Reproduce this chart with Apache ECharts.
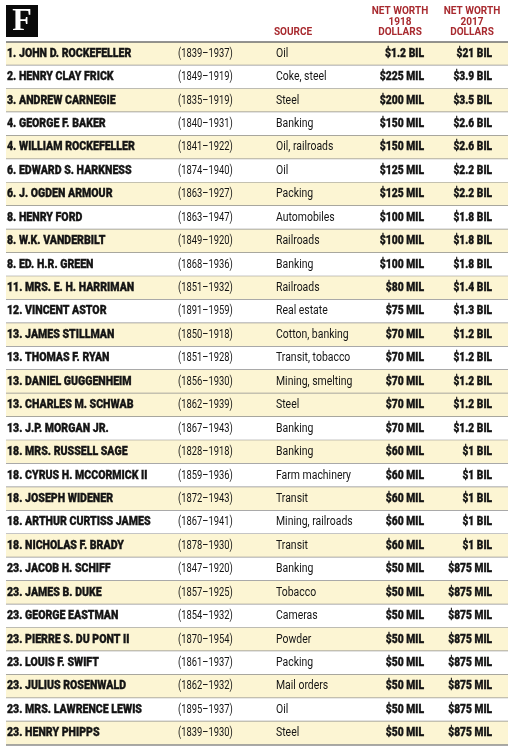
<!DOCTYPE html>
<html>
<head>
<meta charset="utf-8">
<script src="https://cdn.jsdelivr.net/npm/echarts@6/dist/echarts.min.js"></script>
<style>
  html, body { margin: 0; padding: 0; background: #fff; }
  #div_chart { width: 512px; height: 750px; }
</style>
</head>
<body>
<div id="div_chart"></div>
<script>
"use strict";

// table data
const ranks = [1, 2, 3, 4, 4, 6, 6, 8, 8, 8, 11, 12, 13, 13, 13, 13, 13, 18, 18, 18, 18, 18, 23, 23, 23, 23, 23, 23, 23, 23];
const names = [
  "JOHN D. ROCKEFELLER", "HENRY CLAY FRICK", "ANDREW CARNEGIE", "GEORGE F. BAKER",
  "WILLIAM ROCKEFELLER", "EDWARD S. HARKNESS", "J. OGDEN ARMOUR", "HENRY FORD",
  "W.K. VANDERBILT", "ED. H.R. GREEN", "MRS. E. H. HARRIMAN", "VINCENT ASTOR",
  "JAMES STILLMAN", "THOMAS F. RYAN", "DANIEL GUGGENHEIM", "CHARLES M. SCHWAB",
  "J.P. MORGAN JR.", "MRS. RUSSELL SAGE", "CYRUS H. MCCORMICK II", "JOSEPH WIDENER",
  "ARTHUR CURTISS JAMES", "NICHOLAS F. BRADY", "JACOB H. SCHIFF", "JAMES B. DUKE",
  "GEORGE EASTMAN", "PIERRE S. DU PONT II", "LOUIS F. SWIFT", "JULIUS ROSENWALD",
  "MRS. LAWRENCE LEWIS", "HENRY PHIPPS"
];
const lifespans = [
  "(1839–1937)", "(1849–1919)", "(1835–1919)", "(1840–1931)", "(1841–1922)", "(1874–1940)",
  "(1863–1927)", "(1863–1947)", "(1849–1920)", "(1868–1936)", "(1851–1932)", "(1891–1959)",
  "(1850–1918)", "(1851–1928)", "(1856–1930)", "(1862–1939)", "(1867–1943)", "(1828–1918)",
  "(1859–1936)", "(1872–1943)", "(1867–1941)", "(1878–1930)", "(1847–1920)", "(1857–1925)",
  "(1854–1932)", "(1870–1954)", "(1861–1937)", "(1862–1932)", "(1895–1937)", "(1839–1930)"
];
const sources = [
  "Oil", "Coke, steel", "Steel", "Banking", "Oil, railroads", "Oil", "Packing", "Automobiles",
  "Railroads", "Banking", "Railroads", "Real estate", "Cotton, banking", "Transit, tobacco",
  "Mining, smelting", "Steel", "Banking", "Banking", "Farm machinery", "Transit",
  "Mining, railroads", "Transit", "Banking", "Tobacco", "Cameras", "Powder", "Packing",
  "Mail orders", "Oil", "Steel"
];
const worth_1918 = [
  "$1.2 BIL", "$225 MIL", "$200 MIL", "$150 MIL", "$150 MIL", "$125 MIL", "$125 MIL",
  "$100 MIL", "$100 MIL", "$100 MIL", "$80 MIL", "$75 MIL", "$70 MIL", "$70 MIL", "$70 MIL",
  "$70 MIL", "$70 MIL", "$60 MIL", "$60 MIL", "$60 MIL", "$60 MIL", "$60 MIL", "$50 MIL",
  "$50 MIL", "$50 MIL", "$50 MIL", "$50 MIL", "$50 MIL", "$50 MIL", "$50 MIL"
];
const worth_2017 = [
  "$21 BIL", "$3.9 BIL", "$3.5 BIL", "$2.6 BIL", "$2.6 BIL", "$2.2 BIL", "$2.2 BIL",
  "$1.8 BIL", "$1.8 BIL", "$1.8 BIL", "$1.4 BIL", "$1.3 BIL", "$1.2 BIL", "$1.2 BIL", "$1.2 BIL",
  "$1.2 BIL", "$1.2 BIL", "$1 BIL", "$1 BIL", "$1 BIL", "$1 BIL", "$1 BIL", "$875 MIL",
  "$875 MIL", "$875 MIL", "$875 MIL", "$875 MIL", "$875 MIL", "$875 MIL", "$875 MIL"
];
const head_source = "SOURCE";
const head_1918 = "NET WORTH\n1918\nDOLLARS";
const head_2017 = "NET WORTH\n2017\nDOLLARS";

// styling
const font = "Roboto";
const col_red = "#a82a2f";
const col_band = "#fcf5d3";
const col_rule = "#8c8c8c";
const col_ink = "#141414";

const html_div_chart = document.getElementById("div_chart");
const chart = echarts.init(html_div_chart);

const row_idx = names.map((n, i) => [0, i]);

function cell(x, y, text, heavy, align, sx) {
  return {
    type: "text", x: x, y: y, scaleX: sx,
    style: {
      text: text, fill: col_ink,
      // a hair of stroke makes the heavy cells as dark as the print
      stroke: heavy ? col_ink : null, lineWidth: heavy ? 0.35 : 0,
      fontFamily: font, fontSize: 12, fontWeight: heavy ? 900 : 400,
      verticalAlign: "middle", align: align
    }
  };
}

// background band + rule under each row
function render_band(params, api) {
  const i = api.value(1);
  const cs = params.coordSys;
  const yc = api.coord([0, i])[1];
  const h = api.size([0, 1])[1];
  const x0 = cs.x;
  const x1 = cs.x + cs.width;
  // the two halves of the original table are banded differently
  const banded = i < 15 ? i % 2 === 0 : i % 2 === 1;
  const children = [
    {
      type: "rect",
      shape: { x: x0, y: yc - h / 2, width: x1 - x0, height: h },
      style: { fill: banded ? col_band : "#ffffff" }
    },
    {
      type: "line",
      shape: { x1: x0, y1: yc + h / 2, x2: x1, y2: yc + h / 2 },
      style: { stroke: col_rule, lineWidth: 1.4 }
    }
  ];
  if (i === 0) {
    children.push({
      type: "line",
      shape: { x1: x0, y1: yc - h / 2, x2: x1, y2: yc - h / 2 },
      style: { stroke: "#6f6f6f", lineWidth: 1.6 }
    });
  }
  return { type: "group", children: children };
}

// the row's texts
function render_cells(params, api) {
  const i = api.value(1);
  const x0 = params.coordSys.x;
  const yc = api.coord([0, i])[1];
  return {
    type: "group",
    children: [
      cell(x0 + 1, yc, ranks[i] + ". " + names[i], true, "left", 0.88),
      cell(x0 + 172, yc, lifespans[i], false, "left", 0.78),
      cell(x0 + 270, yc, sources[i], false, "left", 0.87),
      cell(x0 + 418, yc, worth_1918[i], true, "right", 0.86),
      cell(x0 + 486, yc, worth_2017[i], true, "right", 0.85)
    ]
  };
}

const head_style = {
  fill: col_red, fontFamily: font, fontSize: 10, fontWeight: "bold",
  lineHeight: 10.5, align: "center", verticalAlign: "middle"
};

chart.setOption({
  animation: false,
  grid: { left: 6, right: 4, top: 42, bottom: 5 },
  xAxis: { type: "value", min: 0, max: 1, show: false },
  yAxis: {
    type: "category", inverse: true, show: false,
    data: names
  },
  series: [
    {
      type: "custom", name: "bands", silent: true,
      renderItem: render_band, data: row_idx,
      encode: { x: 0, y: 1 }, clip: false, z: 1
    },
    {
      type: "custom", name: "cells", silent: true,
      renderItem: render_cells, data: row_idx,
      encode: { x: 0, y: 1 }, clip: false, z: 2
    }
  ],
  graphic: [
    // F logo
    { type: "rect", left: 6, top: 5, shape: { width: 32, height: 32 }, style: { fill: "#0a0a0a" } },
    {
      type: "text", x: 22, y: 22,
      style: {
        text: "F", fill: "#ffffff", font: "bold 32px 'Liberation Serif'",
        align: "center", verticalAlign: "middle"
      }
    },
    { type: "text", x: 293, y: 32, style: Object.assign({}, head_style, { text: head_source }) },
    { type: "text", x: 400, y: 22, style: Object.assign({}, head_style, { text: head_1918 }) },
    { type: "text", x: 472, y: 22, style: Object.assign({}, head_style, { text: head_2017 }) }
  ]
});
</script>
</body>
</html>
